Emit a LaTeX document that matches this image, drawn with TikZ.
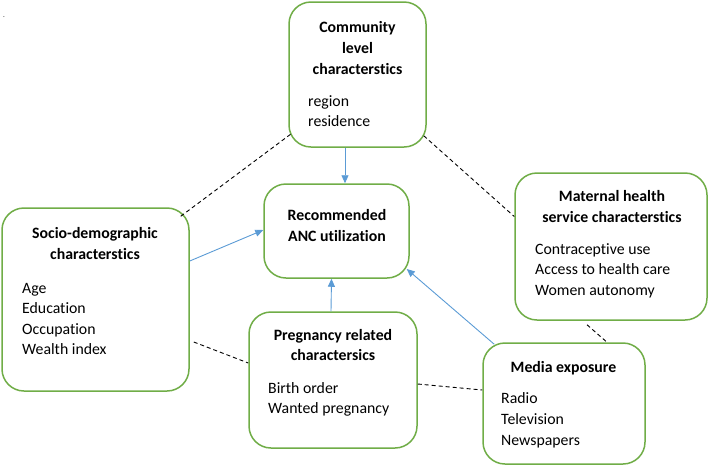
\documentclass[tikz,border=0pt]{standalone}
\usepackage{fontspec}
\setmainfont[Ligatures={NoCommon,NoDiscretionary}]{Carlito}
\usetikzlibrary{arrows.meta}
\definecolor{boxgreen}{HTML}{70AD47}
\definecolor{arrblue}{HTML}{5B9BD5}
\begin{document}
\begin{tikzpicture}[x=1pt,y=-1pt,
  box/.style={draw=boxgreen, line width=1.5pt, rounded corners=22pt, inner sep=0pt, fill=white},
  ttl/.style={anchor=base, inner sep=0pt, font=\fontsize{15.8}{20.5}\selectfont\bfseries},
  itm/.style={anchor=base west, inner sep=0pt, font=\fontsize{15.8}{20.5}\selectfont},
  arr/.style={draw=arrblue, line width=0.9pt, -{Triangle[length=8pt,width=7pt]}},
  dsh/.style={draw=black, line width=0.9pt, dash pattern=on 4pt off 3pt}]
\useasboundingbox (0,0) rectangle (709,467);
\node[inner sep=0pt, anchor=base, font=\fontsize{7}{7}\selectfont] (dot) at (4,17) {.};

% boxes
\node[box, minimum width=137pt, minimum height=145pt] (comm) at (357.5,74.5) {};
\node[box, minimum width=145pt, minimum height=94pt] (rec) at (336.5,231) {};
\node[box, minimum width=187pt, minimum height=183pt] (socio) at (95.5,299.5) {};
\node[box, minimum width=192pt, minimum height=147pt] (mat) at (611,246.5) {};
\node[box, minimum width=168pt, minimum height=136pt] (preg) at (333,380) {};
\node[box, minimum width=162pt, minimum height=121pt] (media) at (564,403.5) {};

% community
\node[ttl] (c1) at (357.5,32) {Community};
\node[ttl] (c2) at (357.5,53) {level};
\node[ttl] (c3) at (357.5,74) {characterstics};
\node[itm] (c4) at (308,106) {region};
\node[itm] (c5) at (308,126) {residence};

% recommended
\node[ttl] (r1) at (337,220) {Recommended};
\node[ttl] (r2) at (337,241) {ANC utilization};

% socio
\node[ttl] (s1) at (95,238) {Socio-demographic};
\node[ttl] (s2) at (95,259) {characterstics};
\node[itm] (s3) at (22,293) {Age};
\node[itm] (s4) at (22,313) {Education};
\node[itm] (s5) at (22,334) {Occupation};
\node[itm] (s6) at (22,354) {Wealth index};

% maternal
\node[ttl] (m1) at (612,201) {Maternal health};
\node[ttl] (m2) at (612,222) {service characterstics};
\node[itm] (m3) at (535,254) {Contraceptive use};
\node[itm] (m4) at (535,274) {Access to health care};
\node[itm] (m5) at (535,295) {Women autonomy};

% pregnancy
\node[ttl] (p1) at (333,340) {Pregnancy related};
\node[ttl] (p2) at (333,360) {charactersics};
\node[itm] (p3) at (268,393) {Birth order};
\node[itm] (p4) at (268,413) {Wanted pregnancy};

% media
\node[ttl] (e1) at (563.5,372) {Media exposure};
\node[itm] (e2) at (501,403) {Radio};
\node[itm] (e3) at (501,424) {Television};
\node[itm] (e4) at (501,445) {Newspapers};

% arrows
\draw[arr] ([xshift=-12.5pt]comm.south) -- ([xshift=8.5pt]rec.north);
\draw[arr] ([yshift=38.5pt]socio.east) -- ([yshift=1pt]rec.west);
\draw[arr] ([xshift=-2pt]preg.north) -- ([xshift=-5pt]rec.south);
\draw[arr] ([xshift=12pt,yshift=-2pt]media.north west) -- ([xshift=-3pt,yshift=-38pt]rec.east);

% dashed
\draw[dsh] ([xshift=-9pt,yshift=-9pt]socio.north east) -- ([xshift=3pt,yshift=14pt]comm.south west);
\draw[dsh] ([xshift=-3pt,yshift=12pt]comm.south east) -- ([yshift=30pt]mat.west);
\draw[dsh] ([xshift=4pt,yshift=-42.5pt]socio.east) -- ([yshift=17pt]preg.west);
\draw[dsh] ([yshift=-4pt]preg.east) -- ([yshift=13.5pt]media.west);
\draw[dsh] ([xshift=-24pt,yshift=-4pt]mat.south) -- ([xshift=43pt]media.north);
\end{tikzpicture}
\end{document}
